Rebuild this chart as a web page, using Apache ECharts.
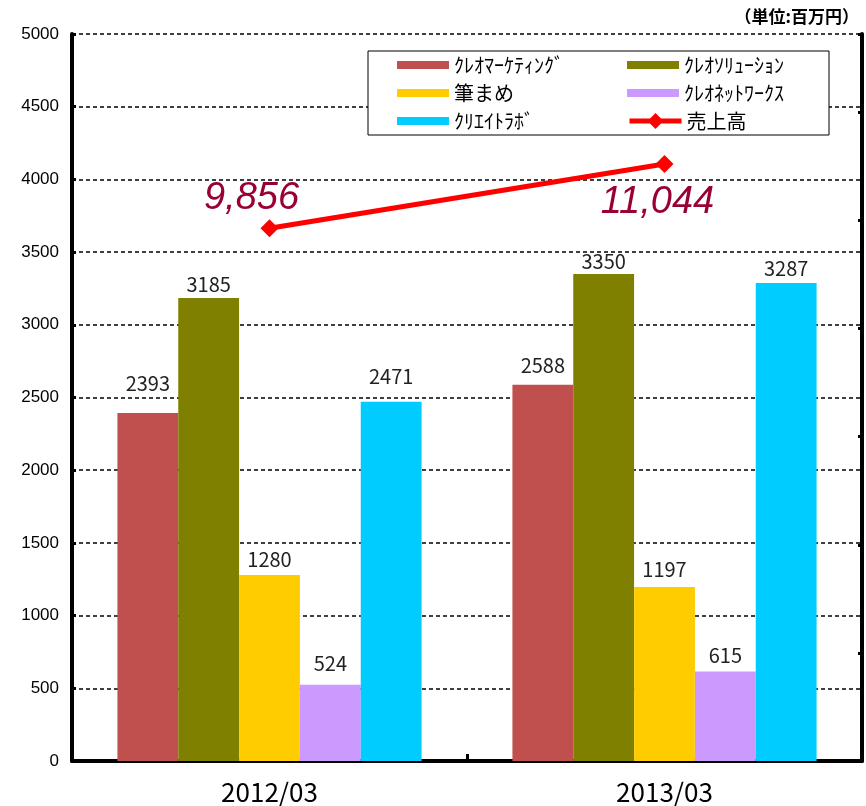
<!DOCTYPE html>
<html lang="ja">
<head>
    <meta charset="UTF-8">
    <title>売上高推移</title>
    <script src="https://cdn.jsdelivr.net/npm/echarts/dist/echarts.min.js"></script>
    <style>
        html, body { margin: 0; padding: 0; background: #fff; }
        #chart-container { width: 866px; height: 806px; }
    </style>
</head>
<body>
    <div id="chart-container"></div>
    <script>
        // データ
        var categories = ['2012/03', '2013/03'];
        var marketing = [2393, 2588];
        var solution = [3185, 3350];
        var fudemame = [1280, 1197];
        var network = [524, 615];
        var createLab = [2471, 3287];
        var sales = [9856, 11044];
        var yTicks = [0, 500, 1000, 1500, 2000, 2500, 3000, 3500, 4000, 4500, 5000];

        var jpFont = '"Noto Sans CJK JP", sans-serif';
        var myChart = echarts.init(document.getElementById('chart-container'));

        // ラベルと棒の間隔（元の図の手動配置に合わせる）
        function barSeries(name, data, color, gaps) {
            return {
                name: name,
                type: 'bar',
                data: data.map(function (v, i) {
                    return { value: v, label: { distance: gaps[i] } };
                }),
                barGap: 0,
                barCategoryGap: '23%',
                itemStyle: { color: color },
                label: {
                    show: true,
                    position: 'top',
                    color: '#222',
                    fontSize: 20,
                    fontFamily: jpFont
                }
            };
        }

        // 売上高ラベルの位置（1点目は上、2点目は下）
        var salesLabel = [
            { position: 'top', distance: 0, offset: [-18, -2] },
            { position: 'bottom', distance: 10, offset: [-7, 0] }
        ];

        var legendText = { fontSize: 20, fontFamily: jpFont, color: '#000', lineHeight: 20 };

        var option = {
            animation: false,
            title: {
                text: '（単位:百万円）',
                right: 2,
                top: 3,
                textStyle: { fontSize: 17, fontWeight: 'bold', fontFamily: jpFont, color: '#000' }
            },
            legend: [{
                orient: 'vertical',
                left: 368,
                top: 51,
                padding: [4, 204, 4, 29],
                itemGap: 8,
                itemWidth: 52,
                itemHeight: 8,
                icon: 'rect',
                borderColor: '#000',
                borderWidth: 1,
                backgroundColor: '#fff',
                textStyle: Object.assign({ width: 171 }, legendText),
                data: ['ｸﾚｵﾏｰｹﾃｨﾝｸﾞ', '筆まめ', 'ｸﾘｴｲﾄﾗﾎﾞ']
            }, {
                orient: 'vertical',
                left: 627,
                top: 55,
                padding: 0,
                itemGap: 8,
                itemWidth: 52,
                itemHeight: 8,
                icon: 'rect',
                textStyle: legendText,
                data: ['ｸﾚｵｿﾘｭｰｼｮﾝ', 'ｸﾚｵﾈｯﾄﾜｰｸｽ']
            }, {
                orient: 'vertical',
                left: 627,
                top: 111,
                padding: 0,
                itemWidth: 52,
                itemHeight: 20,
                lineStyle: { width: 5 },
                textStyle: legendText,
                data: ['売上高']
            }],
            grid: {
                left: 72,
                right: 4,
                top: 34,
                bottom: 45
            },
            xAxis: {
                type: 'category',
                data: categories,
                axisLine: { lineStyle: { color: '#000', width: 4 } },
                axisTick: { show: true, inside: true, length: 7, lineStyle: { color: '#000', width: 3 } },
                axisLabel: { color: '#000', fontSize: 26, fontFamily: jpFont, margin: 18 }
            },
            yAxis: [{
                type: 'value',
                min: yTicks[0],
                max: yTicks[yTicks.length - 1],
                interval: yTicks[1] - yTicks[0],
                axisLine: { show: true, lineStyle: { color: '#000', width: 4 } },
                axisTick: { show: true, inside: true, length: 4, lineStyle: { color: '#000', width: 3 } },
                axisLabel: {
                    color: '#000',
                    fontSize: 17,
                    fontFamily: '"Liberation Sans", Arial',
                    margin: 13,
                    formatter: function (v) { return String(v); }
                },
                splitLine: { lineStyle: { color: '#000', width: 1.5, type: [4, 3] } }
            }, {
                type: 'value',
                position: 'right',
                min: 0,
                max: 13450,
                interval: 2000,
                axisLine: { show: true, lineStyle: { color: '#000', width: 4 } },
                axisTick: { show: true, inside: true, length: 4, lineStyle: { color: '#000', width: 3 } },
                axisLabel: { show: false },
                splitLine: { show: false }
            }],
            series: [
                barSeries('ｸﾚｵﾏｰｹﾃｨﾝｸﾞ', marketing, '#C0504D', [20, 9]),
                barSeries('ｸﾚｵｿﾘｭｰｼｮﾝ', solution, '#808000', [3, 3]),
                barSeries('筆まめ', fudemame, '#FFCC00', [5, 8]),
                barSeries('ｸﾚｵﾈｯﾄﾜｰｸｽ', network, '#CC99FF', [11, 6]),
                barSeries('ｸﾘｴｲﾄﾗﾎﾞ', createLab, '#00CCFF', [15, 5]),
                {
                    name: '売上高',
                    type: 'line',
                    yAxisIndex: 1,
                    symbol: 'diamond',
                    symbolSize: 18,
                    lineStyle: { color: '#FF0000', width: 5 },
                    itemStyle: { color: '#FF0000' },
                    data: sales.map(function (v, i) {
                        return { value: v, label: salesLabel[i] };
                    }),
                    label: {
                        show: true,
                        color: '#990033',
                        fontSize: 38,
                        fontStyle: 'italic',
                        fontFamily: '"Liberation Sans", Arial',
                        formatter: function (p) {
                            return p.value.toLocaleString('en-US');
                        }
                    },
                    z: 5
                }
            ]
        };

        myChart.setOption(option);

        window.addEventListener('resize', function () {
            myChart.resize();
        });
    </script>
</body>
</html>
